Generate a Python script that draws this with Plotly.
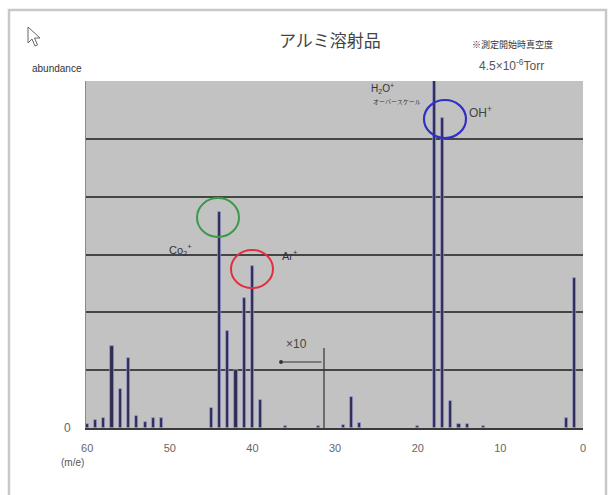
import plotly.graph_objects as go

# m/z and relative abundance (grid units; 6 = full scale)
mz = [60, 59, 58, 57, 56, 55, 54, 53, 52, 51,
      45, 44, 43, 42, 41, 40, 39, 36, 32, 29, 28, 27,
      20, 18, 17, 16, 15, 14, 12, 2, 1]
abundance = [0.07, 0.13, 0.17, 1.41, 0.67, 1.21, 0.20, 0.11, 0.17, 0.17,
             0.35, 3.74, 1.67, 1.00, 2.25, 2.80, 0.48, 0.03, 0.04, 0.05, 0.54, 0.08,
             0.03, 6.50, 5.36, 0.47, 0.07, 0.07, 0.03, 0.17, 2.60]
x_ticks = [60, 50, 40, 30, 20, 10, 0]
y_grid = [0, 1, 2, 3, 4, 5, 6]

W, H = 610, 495
L, R, T, B = 86, 583, 81, 428  # plot-area pixel box


def P(x):
    return (x - L) / (R - L)


def Q(y):
    return (B - y) / (B - T)


fig = go.Figure()
fig.add_trace(go.Bar(
    x=mz, y=abundance, width=0.38,
    marker=dict(color="#2e2e55", line=dict(color="rgba(165,165,225,0.75)", width=0.8)),
    hoverinfo="x+y",
))

jp = "Noto Sans CJK JP"
sans = "Liberation Sans"

annotations = [
    dict(x=P(330), y=Q(40), text="アルミ溶射品", font=dict(family=jp, size=17, color="#444444")),
    dict(x=P(57), y=Q(68), text="abundance", font=dict(family=sans, size=10, color="#333333")),
    dict(x=P(512), y=Q(45), text="※測定開始時真空度", font=dict(family=jp, size=9, color="#333333")),
    dict(x=P(511), y=Q(65), text="4.5×10<sup>-6</sup>Torr", font=dict(family=sans, size=12, color="#555555")),
    dict(x=P(382), y=Q(88), text="H<sub>2</sub>O<sup>+</sup>", font=dict(family=sans, size=10, color="#333333")),
    dict(x=P(397), y=Q(101), text="オーバースケール", font=dict(family=jp, size=6, color="#333333")),
    dict(x=P(480), y=Q(112), text="OH<sup>+</sup>", font=dict(family=sans, size=12, color="#444444")),
    dict(x=P(180), y=Q(250), text="Co<sub>2</sub><sup>+</sup>", font=dict(family=sans, size=11, color="#333333")),
    dict(x=P(290), y=Q(255), text="Ar<sup>+</sup>", font=dict(family=sans, size=11, color="#333333")),
    dict(x=P(296), y=Q(344), text="×10", font=dict(family=sans, size=12, color="#444444")),
    dict(x=P(72), y=Q(462), text="(m/e)", font=dict(family=sans, size=10, color="#555555")),
]
for a in annotations:
    a.update(xref="paper", yref="paper", showarrow=False, xanchor="center", yanchor="middle")

# x10 arrow
annotations.append(dict(
    xref="paper", yref="paper", x=P(281), y=Q(362), ax=42, ay=0, text="",
    showarrow=True, arrowhead=6, arrowsize=0.8, arrowwidth=1.2, arrowcolor="#333333",
))

shapes = [
    # outer frame
    dict(type="rect", xref="paper", yref="paper", x0=P(9), x1=P(606), y0=Q(520), y1=Q(10),
         line=dict(color="#c8c8c8", width=2.5), layer="below"),
    # x10 divider line
    dict(type="line", xref="paper", yref="paper", x0=P(324), x1=P(324), y0=Q(428), y1=Q(348),
         line=dict(color="#333333", width=1.2)),
    # circles
    dict(type="circle", xref="paper", yref="paper", x0=P(197), x1=P(239), y0=Q(237), y1=Q(198),
         line=dict(color="#3a9a4a", width=2)),
    dict(type="circle", xref="paper", yref="paper", x0=P(231), x1=P(273), y0=Q(288), y1=Q(250),
         line=dict(color="#e03040", width=2)),
    dict(type="circle", xref="paper", yref="paper", x0=P(424), x1=P(466), y0=Q(138), y1=Q(100),
         line=dict(color="#3030c8", width=2.2)),
    # cursor icon
    dict(type="path", xref="paper", yref="paper",
         path=(f"M {P(28)},{Q(27)} L {P(28)},{Q(43)} L {P(32)},{Q(39)} L {P(35)},{Q(46)} "
               f"L {P(37.5)},{Q(45)} L {P(34.5)},{Q(38)} L {P(40)},{Q(38)} Z"),
         line=dict(color="#666666", width=1)),
]

fig.update_layout(
    width=W, height=H,
    margin=dict(l=L, r=W - R, t=T, b=H - B, pad=0),
    paper_bgcolor="white", plot_bgcolor="#c2c2c2",
    showlegend=False, bargap=0,
    annotations=annotations, shapes=shapes,
    font=dict(family=sans),
)
fig.update_xaxes(
    range=[60.15, 0], tickvals=x_ticks, ticktext=[str(v) for v in x_ticks],
    showgrid=False, zeroline=False, showline=True, linecolor="#3a3a3a", linewidth=2,
    ticks="", ticklabelstandoff=9, tickfont=dict(family=sans, size=11, color="#666666"),
)
fig.update_yaxes(
    range=[0, 6], tickvals=y_grid, ticktext=["0", "", "", "", "", "", ""],
    showgrid=True, gridcolor="#454545", gridwidth=1.5, zeroline=False,
    showline=True, linecolor="#8a8a8a", linewidth=1,
    ticks="", ticklabelstandoff=12, tickfont=dict(family=sans, size=12, color="#666666"),
)

fig.write_html("out.html", config={"displayModeBar": False},
               post_script="document.body.style.margin='0';")
